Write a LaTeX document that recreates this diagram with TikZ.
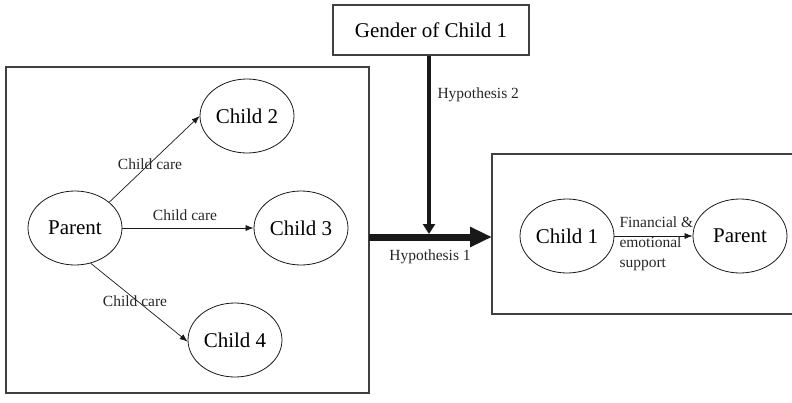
\documentclass[tikz,border=0pt]{standalone}
\usepackage{fontspec}
\setmainfont{Liberation Serif}
\usetikzlibrary{arrows.meta,shapes.geometric}
\begin{document}
\begin{tikzpicture}[x=1pt,y=-1pt,
  frame/.style={draw=black!75, line width=1.1pt},
  bubble/.style={ellipse, draw=black!90, line width=0.8pt, minimum width=94pt, minimum height=74pt, inner sep=0pt, font=\fontsize{21}{25}\selectfont},
  lab/.style={font=\fontsize{15.5}{19}\selectfont, text=black!85},
  thin/.style={draw=black!90, line width=0.7pt, -{Latex[length=8pt,width=6pt]}},
]
\useasboundingbox (0,0) rectangle (792,402);
% left box
\node[frame, minimum width=363pt, minimum height=326pt, inner sep=0pt] (lbox) at (187.5,230) {};
% gender box
\node[frame, minimum width=196pt, minimum height=50pt, inner sep=0pt, font=\fontsize{21}{25}\selectfont] (gen) at (431,30) {Gender of Child 1};
% right box (open on the right)
\coordinate (rtr) at (792,154);
\coordinate (rtl) at (492,154);
\coordinate (rbl) at (492,314);
\coordinate (rbr) at (792,314);
\draw[frame] (rtr) -- (rtl) -- (rbl) -- (rbr);
% left ellipses
\node[bubble] (p) at (75,228) {Parent};
\node[bubble] (c2) at (247,116) {Child 2};
\node[bubble] (c3) at (301,228) {Child 3};
\node[bubble] (c4) at (235,340) {Child 4};
\draw[thin] (p.37) -- (c2.west);
\draw[thin] (p.east) -- (c3.west);
\draw[thin] (p.-66) -- (c4.182);
\node[lab] (l2) at (150,164) {Child care};
\node[lab] (l3) at (185,215) {Child care};
\node[lab] (l4) at (135,301) {Child care};
% right ellipses
\node[bubble] (c1) at (567,236) {Child 1};
\node[bubble] (pr) at (740,236) {Parent};
\draw[thin] (c1.east) -- (pr.west);
\node[lab, anchor=west, align=left, font=\fontsize{15.5}{20}\selectfont] (fin) at (616,244) {Financial \&\\emotional\\support};
% hypothesis arrows
\coordinate (h1s) at (369,237);
\coordinate (h1e) at (rtl |- h1s);
\draw[draw=black!90, line width=7pt, -{Triangle[length=22pt,width=19pt]}] (h1s) -- (h1e);
\coordinate (h2s) at ([xshift=-2pt]gen.south);
\coordinate (h2e) at (h2s |- 0,234);
\draw[draw=black!90, line width=4.5pt, -{Triangle[length=10pt,width=12pt]}] (h2s) -- (h2e);
\node[lab, anchor=west] (hy2) at (434,95) {Hypothesis 2};
\node[lab] (hy1) at (430,257) {Hypothesis 1};
\end{tikzpicture}
\end{document}
